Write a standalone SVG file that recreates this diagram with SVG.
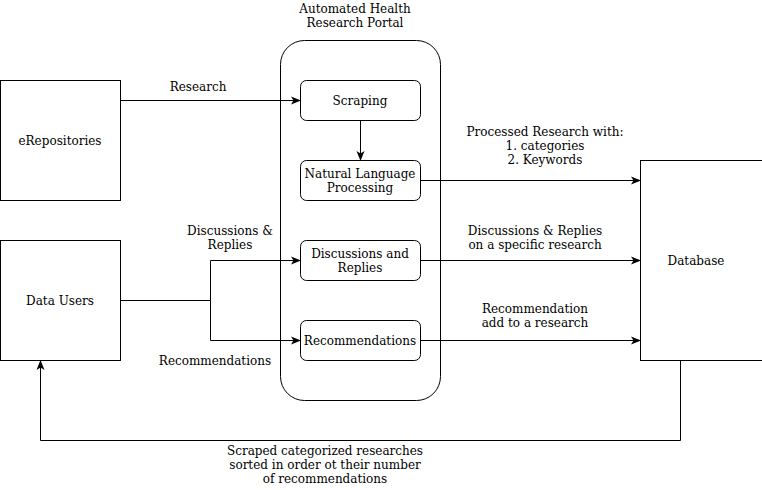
<svg xmlns="http://www.w3.org/2000/svg" width="762" height="490" viewBox="0 0 762 490">
<style>
text{font-family:"DejaVu Serif",serif;font-size:12px;fill:#000;text-anchor:middle}
.box{fill:#fff;stroke:#000;stroke-width:1}
.ln{fill:none;stroke:#000;stroke-width:1}
</style>
<defs>
<marker id="ah" viewBox="0 0 10 10" refX="9" refY="5" markerWidth="10" markerHeight="10" markerUnits="userSpaceOnUse" orient="auto">
<path d="M0,1 L10,5 L0,9 L2.5,5 Z" fill="#000"/>
</marker>
</defs>
<rect width="762" height="490" fill="#fff"/>
<g id="portal">
<rect class="box" x="280.5" y="40.5" width="160" height="360" rx="24"/>
<text x="355" y="13">Automated Health</text>
<text x="355" y="27">Research Portal</text>
</g>
<g id="erepositories">
<rect class="box" x="0.5" y="80.5" width="120" height="120"/>
<text x="60" y="145">eRepositories</text>
</g>
<g id="datausers">
<rect class="box" x="0.5" y="240.5" width="120" height="120"/>
<text x="60" y="305">Data Users</text>
</g>
<g id="database">
<rect class="box" x="640.5" y="160.5" width="160" height="200"/>
<text x="696" y="265">Database</text>
</g>
<g id="connectors">
<path class="ln" d="M120.5,100.5 H300" marker-end="url(#ah)"/>
<path class="ln" d="M360.5,120.5 V160" marker-end="url(#ah)"/>
<path class="ln" d="M420.5,180.5 H640" marker-end="url(#ah)"/>
<path class="ln" d="M120.5,300.5 H210.5 V260.5 H300" marker-end="url(#ah)"/>
<path class="ln" d="M210.5,300.5 V340.5 H300" marker-end="url(#ah)"/>
<path class="ln" d="M420.5,260.5 H640" marker-end="url(#ah)"/>
<path class="ln" d="M420.5,340.5 H640" marker-end="url(#ah)"/>
<path class="ln" d="M680.5,360.5 V440.5 H40.5 V361" marker-end="url(#ah)"/>
<text x="198" y="91">Research</text>
<text x="545" y="136">Processed Research with:</text>
<text x="545" y="150">1. categories</text>
<text x="545" y="164">2. Keywords</text>
<text x="230" y="235">Discussions &amp;</text>
<text x="230" y="249">Replies</text>
<text x="215" y="365">Recommendations</text>
<text x="535" y="235">Discussions &amp; Replies</text>
<text x="535" y="249">on a specific research</text>
<text x="535" y="313">Recommendation</text>
<text x="535" y="327">add to a research</text>
<text x="325" y="455">Scraped categorized researches</text>
<text x="325" y="469">sorted in order ot their number</text>
<text x="325" y="483">of recommendations</text>
</g>
<g id="scraping">
<rect class="box" x="300.5" y="80.5" width="120" height="40" rx="6"/>
<text x="360" y="105">Scraping</text>
</g>
<g id="nlp">
<rect class="box" x="300.5" y="160.5" width="120" height="40" rx="6"/>
<text x="360" y="178">Natural Language</text>
<text x="360" y="192">Processing</text>
</g>
<g id="discussions">
<rect class="box" x="300.5" y="240.5" width="120" height="40" rx="6"/>
<text x="360" y="258">Discussions and</text>
<text x="360" y="272">Replies</text>
</g>
<g id="recommendations">
<rect class="box" x="300.5" y="320.5" width="120" height="40" rx="6"/>
<text x="360" y="345">Recommendations</text>
</g>
</svg>
